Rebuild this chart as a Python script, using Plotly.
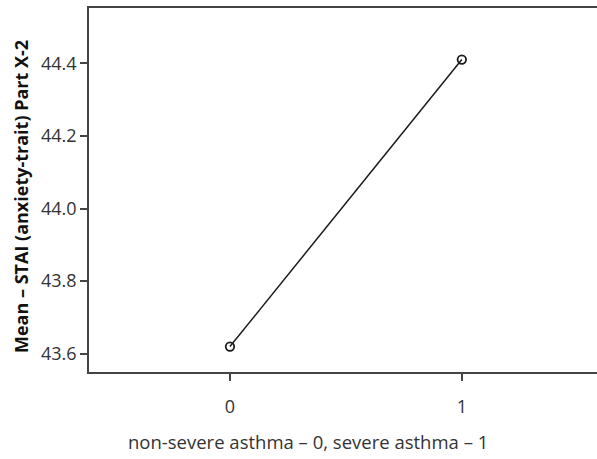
import plotly.graph_objects as go

groups = [0, 1]
means = [43.62, 44.41]
y_ticks = [43.6, 43.8, 44.0, 44.2, 44.4]
y_tick_labels = ["43.6", "43.8", "44.0", "44.2", "44.4"]
x_ticks = [0, 1]
x_tick_labels = ["0", "1"]
x_title = "non-severe asthma – 0, severe asthma – 1"
y_title = "Mean – STAI (anxiety-trait) Part X-2"

W, H = 597, 459
L, R, T, B = 89, 0, 8, 87
pw, ph = W - L - R, H - T - B

fig = go.Figure()
fig.add_trace(go.Scatter(
    x=groups, y=means, mode="lines+markers",
    line=dict(color="#1a1a1a", width=1.5),
    marker=dict(symbol="circle-open", size=8.5, color="#1a1a1a", line=dict(width=1.8)),
    showlegend=False, cliponaxis=False, hoverinfo="skip",
))

axis_col = "#444444"
fig.update_layout(
    width=W, height=H,
    margin=dict(l=L, r=R, t=T, b=B, autoexpand=False),
    paper_bgcolor="white", plot_bgcolor="white",
    font=dict(family="Open Sans", color="#333333"),
    xaxis=dict(
        range=[-0.608, 1.583], tickvals=x_ticks, ticktext=x_tick_labels,
        showgrid=False, zeroline=False, automargin=False,
        showline=True, mirror=True, linecolor=axis_col, linewidth=2,
        ticks="outside", ticklen=7, tickwidth=1.5, tickcolor=axis_col,
        tickfont=dict(size=18, color="#333333"), ticklabelstandoff=10,
    ),
    yaxis=dict(
        range=[43.550, 44.552], tickvals=y_ticks, ticktext=y_tick_labels,
        showgrid=False, zeroline=False, automargin=False,
        showline=True, linecolor=axis_col, linewidth=1.5,
        ticks="outside", ticklen=7, tickwidth=1.5, tickcolor=axis_col,
        tickfont=dict(size=18, color="#333333"), ticklabelstandoff=0,
    ),
    annotations=[
        dict(text=x_title, xref="paper", yref="paper",
             x=(307.5 - L) / pw, y=(H - B - 441) / ph,
             xanchor="center", yanchor="middle", showarrow=False,
             font=dict(size=18.5, color="#333333")),
        dict(text="<b>" + y_title + "</b>", xref="paper", yref="paper",
             x=(21 - L) / pw, y=(H - B - 197) / ph, textangle=-90,
             xanchor="center", yanchor="middle", showarrow=False,
             font=dict(size=18, color="#111111")),
    ],
)

fig.write_html("out.html", config={"displayModeBar": False},
               post_script="document.body.style.margin='0';document.body.style.overflow='hidden';")
